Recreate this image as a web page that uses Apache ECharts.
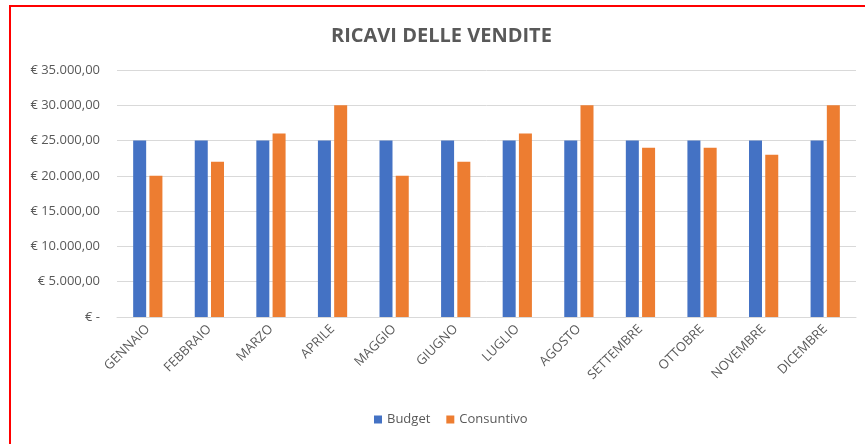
<!DOCTYPE html>
<html style="height: 100%">
    <head>
        <title>Ricavi delle vendite</title>
        <meta charset="utf-8">
    </head>
    <body style="height: 100%; margin: 0; background: #fff">
        <div id="container" style="position: absolute; left: 0; top: 0; width: 865px; height: 444px"></div>
        <div style="position: absolute; left: 9px; top: 5px; width: 870px; height: 437px; border: 2px solid #ff0000; border-bottom: 1px solid #f7a3a3; pointer-events: none"></div>

        <script type="text/javascript" src="https://cdn.jsdelivr.net/npm/echarts@6.0.0/dist/echarts.min.js"></script>
        <script type="text/javascript">
            var mesi = ['GENNAIO', 'FEBBRAIO', 'MARZO', 'APRILE', 'MAGGIO', 'GIUGNO', 'LUGLIO', 'AGOSTO', 'SETTEMBRE', 'OTTOBRE', 'NOVEMBRE', 'DICEMBRE'];
            var budget = [25000, 25000, 25000, 25000, 25000, 25000, 25000, 25000, 25000, 25000, 25000, 25000];
            var consuntivo = [20000, 22000, 26000, 30000, 20000, 22000, 26000, 30000, 24000, 24000, 23000, 30000];

            var grigio = '#595959';
            var font = 'Open Sans';

            function euro(v) {
                if (v === 0) return '€ -';
                var s = String(v).replace(/\B(?=(\d{3})+(?!\d))/g, '.');
                return '€ ' + s + ',00';
            }

            var dom = document.getElementById("container");
            var myChart = echarts.init(dom);

            var option = {
                animation: false,
                title: {
                    text: 'RICAVI DELLE VENDITE',
                    left: 326,
                    top: 21,
                    textStyle: { color: grigio, fontSize: 20, fontWeight: 'bold', fontFamily: font }
                },
                legend: {
                    bottom: 13,
                    left: 369,
                    itemWidth: 8,
                    itemHeight: 8,
                    itemGap: 16,
                    icon: 'rect',
                    textStyle: { color: grigio, fontSize: 13, fontFamily: font },
                    data: ['Budget', 'Consuntivo']
                },
                grid: { left: 117, right: 9, top: 70, bottom: 127, containLabel: false },
                xAxis: {
                    type: 'category',
                    data: mesi,
                    axisTick: { show: false },
                    axisLine: { lineStyle: { color: '#d9d9d9' } },
                    axisLabel: { rotate: 45, color: grigio, fontSize: 13, fontFamily: font, interval: 0, margin: 10 }
                },
                yAxis: {
                    type: 'value',
                    min: 0,
                    max: 35000,
                    interval: 5000,
                    axisLine: { show: false },
                    axisTick: { show: false },
                    splitLine: { lineStyle: { color: '#d9d9d9' } },
                    axisLabel: { color: grigio, fontSize: 13, fontFamily: font, margin: 17, formatter: euro }
                },
                series: [
                    {
                        name: 'Budget',
                        type: 'bar',
                        data: budget,
                        barWidth: 13,
                        barGap: '25%',
                        itemStyle: { color: '#4472c4' }
                    },
                    {
                        name: 'Consuntivo',
                        type: 'bar',
                        data: consuntivo,
                        barWidth: 13,
                        itemStyle: { color: '#ed7d31' }
                    }
                ]
            };

            myChart.setOption(option);
        </script>
    </body>
</html>
